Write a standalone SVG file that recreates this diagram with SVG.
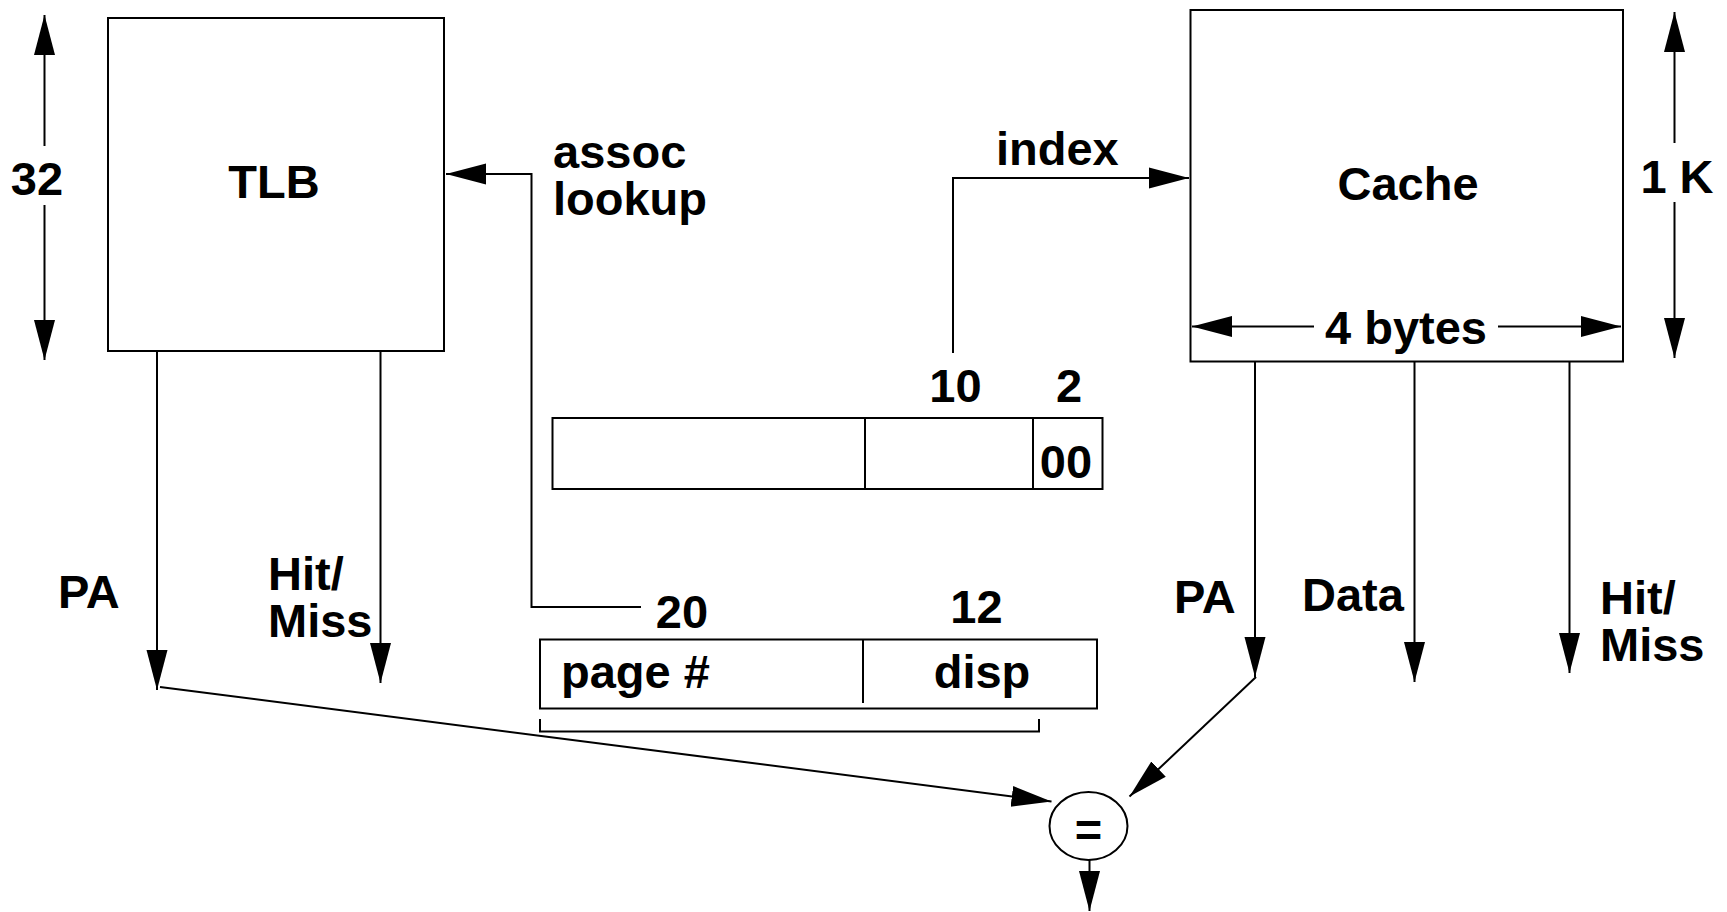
<svg xmlns="http://www.w3.org/2000/svg" width="1727" height="912" viewBox="0 0 1727 912">
  <defs>
    <style>
      .box { fill: #fff; stroke: #000; stroke-width: 2; }
      .ln { fill: none; stroke: #000; stroke-width: 2; }
      .t { font-family: "Liberation Sans", Arial, Helvetica, sans-serif; font-weight: bold; font-size: 47px; fill: #000; }
      .c { text-anchor: middle; }
    </style>
    <marker id="ah" markerUnits="userSpaceOnUse" markerWidth="42" markerHeight="24" viewBox="0 -12 42 24" refX="40" refY="0" orient="auto-start-reverse">
      <path d="M0,-10.5 L40,0 L0,10.5 Z" fill="#000"/>
    </marker>
  </defs>
  <rect width="1727" height="912" fill="#fff"/>

  <g id="tlb">
    <rect class="box" x="108" y="18" width="336" height="333"/>
    <text class="t c" x="274" y="198">TLB</text>
  </g>

  <g id="tlb-size">
    <line class="ln" x1="44.5" y1="146" x2="44.5" y2="15" marker-end="url(#ah)"/>
    <line class="ln" x1="44.5" y1="205" x2="44.5" y2="360" marker-end="url(#ah)"/>
    <text class="t c" x="37" y="195">32</text>
  </g>

  <g id="cache">
    <rect class="box" x="1190.5" y="10" width="432.5" height="351.5"/>
    <text class="t c" x="1408" y="200">Cache</text>
    <line class="ln" x1="1314" y1="326.5" x2="1192" y2="326.5" marker-end="url(#ah)"/>
    <line class="ln" x1="1498" y1="326.5" x2="1621" y2="326.5" marker-end="url(#ah)"/>
    <text class="t" x="1325" y="344">4 bytes</text>
  </g>

  <g id="cache-size">
    <line class="ln" x1="1674.5" y1="143" x2="1674.5" y2="12" marker-end="url(#ah)"/>
    <line class="ln" x1="1674.5" y1="202" x2="1674.5" y2="358" marker-end="url(#ah)"/>
    <text class="t c" x="1677" y="193">1 K</text>
  </g>

  <g id="va-index">
    <rect class="box" x="552.5" y="418" width="550" height="71"/>
    <line class="ln" x1="865" y1="418" x2="865" y2="489"/>
    <line class="ln" x1="1033" y1="418" x2="1033" y2="489"/>
    <text class="t c" x="955.5" y="402">10</text>
    <text class="t c" x="1069" y="402">2</text>
    <text class="t c" x="1066" y="478">00</text>
  </g>

  <g id="va-page">
    <rect class="box" x="540" y="639.5" width="557" height="69"/>
    <line class="ln" x1="863" y1="639.5" x2="863" y2="703"/>
    <text class="t c" x="682" y="628">20</text>
    <text class="t c" x="976.5" y="623">12</text>
    <text class="t" x="561" y="688">page #</text>
    <text class="t c" x="982" y="688">disp</text>
    <path class="ln" d="M540,719 V731.5 H1039 V719"/>
  </g>

  <g id="compare">
    <ellipse class="box" cx="1088.5" cy="826" rx="39" ry="34"/>
    <text class="t c" x="1088.5" y="846">=</text>
  </g>

  <g id="labels">
    <text class="t" x="553" y="168">assoc<tspan x="553" dy="47">lookup</tspan></text>
    <text class="t" x="996" y="165">index</text>
    <text class="t" x="58" y="608">PA</text>
    <text class="t" x="268" y="590">Hit/<tspan x="268" dy="47">Miss</tspan></text>
    <text class="t" x="1174" y="613">PA</text>
    <text class="t" x="1302" y="611">Data</text>
    <text class="t" x="1600" y="614">Hit/<tspan x="1600" dy="47">Miss</tspan></text>
  </g>

  <g id="connectors">
    <path class="ln" d="M641,607 H531.5 V174 H446" marker-end="url(#ah)"/>
    <path class="ln" d="M953,353 V178 H1189" marker-end="url(#ah)"/>
    <line class="ln" x1="157" y1="351" x2="157" y2="690" marker-end="url(#ah)"/>
    <line class="ln" x1="380.5" y1="351" x2="380.5" y2="683" marker-end="url(#ah)"/>
    <line class="ln" x1="1255" y1="361.5" x2="1255" y2="677" marker-end="url(#ah)"/>
    <line class="ln" x1="1414.5" y1="361.5" x2="1414.5" y2="682" marker-end="url(#ah)"/>
    <line class="ln" x1="1569.5" y1="361.5" x2="1569.5" y2="673" marker-end="url(#ah)"/>
    <line class="ln" x1="160" y1="687" x2="1051.5" y2="801.5" marker-end="url(#ah)"/>
    <line class="ln" x1="1256" y1="677" x2="1129.5" y2="796.5" marker-end="url(#ah)"/>
    <line class="ln" x1="1089.5" y1="860" x2="1089.5" y2="911" marker-end="url(#ah)"/>
  </g>
</svg>
